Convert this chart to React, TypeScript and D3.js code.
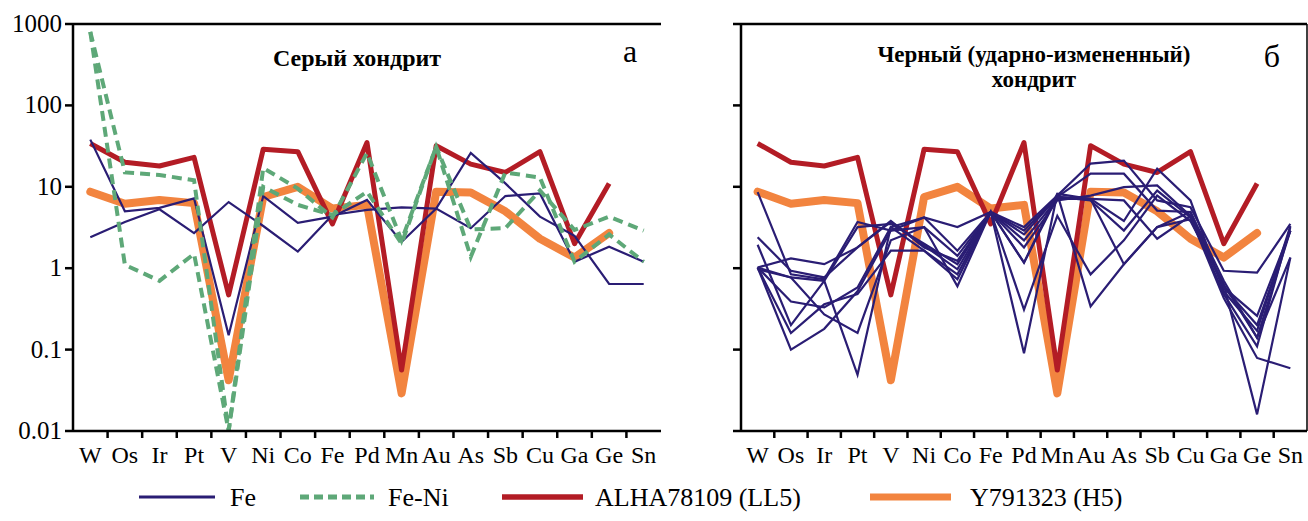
import React from "react";
import * as d3 from "d3";

// elements along the x axis
const elements = ["W", "Os", "Ir", "Pt", "V", "Ni", "Co", "Fe", "Pd", "Mn", "Au", "As", "Sb", "Cu", "Ga", "Ge", "Sn"];

const tickValues = [1000, 100, 10, 1, 0.1, 0.01];
const tickLabels = ["1000", "100", "10", "1", "0.1", "0.01"];

// reference chondrites (same in both panels)
const alha78109 = [34, 20, 18, 23, 0.47, 29, 27, 3.5, 35, 0.056, 32, 19, 15, 27, 2.0, 11, null];
const y791323 = [8.7, 6.2, 6.9, 6.3, 0.042, 7.5, 10, 5.4, 6.0, 0.029, 8.7, 8.5, 5.0, 2.3, 1.35, 2.7, null];

// а: grey chondrite
const grayFe1 = [38, 5.0, 5.5, 7.2, 0.15, 7.7, 3.6, 4.3, 6.9, 2.1, 5.4, 26, 11, 4.3, 2.5, 0.64, 0.64];
const grayFe2 = [2.4, 3.7, 5.3, 2.7, 6.5, 3.3, 1.6, 4.5, 5.2, 5.6, 5.4, 3.1, 7.7, 8.3, 1.2, 1.84, 1.2];
const grayFeNi1 = [800, 15, 14, 12, 0.01, 17, 9.5, 4.2, 26, 2.2, 31, 1.38, 15, 13, 1.2, 2.6, 1.2];
const grayFeNi2 = [800, 1.1, 0.7, 1.5, 0.01, 10, 6, 4.5, 8.7, 2.0, 31, 3.0, 3.1, 9, 2.95, 4.3, 2.9];

// б: black (shock-altered) chondrite
const blackFe1 = [8.6, 0.84, 0.73, 3.7, 2.9, 4.2, 3.2, 4.9, 3.2, 7.8, 19.3, 21, 6.8, 5.6, 0.93, 0.88, 3.5];
const blackFe2 = [2.4, 0.93, 0.77, 1.8, 3.8, 1.8, 1.23, 4.9, 2.6, 7.5, 14.5, 14.5, 5.1, 4.9, 0.58, 0.26, 2.9];
const blackFe3 = [1.94, 0.2, 0.7, 3.2, 3.5, 2.0, 1.12, 4.9, 2.2, 7.1, 7.1, 3.8, 16.7, 6.8, 0.52, 0.17, 3.3];
const blackFe4 = [1.02, 1.32, 1.12, 1.8, 3.7, 1.9, 0.97, 4.9, 1.8, 6.8, 7.8, 9.9, 10.4, 4.4, 0.48, 0.11, 3.2];
const blackFe5 = [1.02, 0.39, 0.33, 0.58, 3.2, 1.64, 0.84, 4.9, 1.17, 7.5, 6.8, 2.9, 9.0, 4.2, 0.43, 0.079, 0.059];
const blackFe6 = [1.02, 0.16, 0.36, 0.48, 1.64, 1.64, 0.73, 4.9, 0.31, 4.4, 0.84, 2.2, 7.8, 3.8, 0.63, 0.016, 1.35];
const blackFe7 = [1.02, 0.1, 0.18, 0.52, 2.9, 3.2, 0.6, 4.9, 0.09, 8.2, 0.34, 1.12, 3.2, 4.0, 0.63, 0.14, 2.9];
const blackFe8 = [0.97, 0.77, 0.27, 0.16, 2.2, 3.2, 1.42, 4.9, 2.9, 7.5, 7.1, 6.8, 2.3, 4.4, 0.58, 0.2, 2.9];
const blackFe9 = [1.02, 0.77, 0.7, 0.049, 3.2, 4.2, 1.64, 4.9, 1.17, 8.2, 7.1, 1.12, 3.2, 4.9, 0.7, 0.14, 1.35];

const FONT = "Liberation Serif, DejaVu Serif, Times New Roman, serif";
const C_FE = "#2a1d74";
const C_FENI = "#5ea878";
const C_ALHA = "#b31c25";
const C_Y79 = "#f2843f";

const TOP = 24;
const BOTTOM = 431;

const y = d3.scaleLog().domain([0.01, 1000]).range([BOTTOM, TOP]);

const Panel = ({ x0, x1, fe, feni, yLabels, rightBorder }) => {
  const x = d3.scaleBand().domain(elements).range([x0, x1]).padding(0);
  const line = d3
    .line()
    .defined((d) => d != null)
    .x((d, i) => x(elements[i]) + x.bandwidth() / 2)
    .y((d) => y(d));

  const bounds = d3.range(1, elements.length).map((k) => x0 + k * x.bandwidth());

  return (
    <g>
      <path d={line(y791323)} fill="none" stroke={C_Y79} strokeWidth={8} strokeLinejoin="round" strokeLinecap="round" />
      <path d={line(alha78109)} fill="none" stroke={C_ALHA} strokeWidth={5} strokeLinejoin="round" />
      {fe.map((s, i) => (
        <path key={"fe" + i} d={line(s)} fill="none" stroke={C_FE} strokeWidth={2.2} />
      ))}
      {feni.map((s, i) => (
        <path key={"fn" + i} d={line(s)} fill="none" stroke={C_FENI} strokeWidth={4} strokeDasharray="10 6" />
      ))}

      {/* frame */}
      <line x1={x0} x2={x1} y1={TOP} y2={TOP} stroke="#000" strokeWidth={2.5} />
      <line x1={x0} x2={x1} y1={BOTTOM} y2={BOTTOM} stroke="#000" strokeWidth={2.5} />
      <line x1={x0} x2={x0} y1={TOP - 1} y2={BOTTOM + 1} stroke="#000" strokeWidth={2.5} />
      {rightBorder && <line x1={x1} x2={x1} y1={TOP} y2={BOTTOM} stroke="#000" strokeWidth={1.5} />}

      {tickValues.map((v, i) => (
        <g key={"yt" + i}>
          <line x1={x0 - 8} x2={x0} y1={y(v)} y2={y(v)} stroke="#000" strokeWidth={2.5} />
          {yLabels && (
            <text x={x0 - 11} y={y(v) + 8} textAnchor="end" fontSize={25} style={{ fontFamily: FONT }}>
              {tickLabels[i]}
            </text>
          )}
        </g>
      ))}
      {bounds.map((bx, i) => (
        <line key={"xt" + i} x1={bx} x2={bx} y1={BOTTOM} y2={BOTTOM + 7} stroke="#000" strokeWidth={2.5} />
      ))}
      {elements.map((e) => (
        <text key={e} x={x(e) + x.bandwidth() / 2} y={463} textAnchor="middle" fontSize={24} style={{ fontFamily: FONT }}>
          {e}
        </text>
      ))}
    </g>
  );
};

const legend = [
  { label: "Fe", color: C_FE, width: 3, dash: null, x: 139, len: 76, tx: 230 },
  { label: "Fe-Ni", color: C_FENI, width: 5, dash: "9 5", x: 300, len: 74, tx: 388 },
  { label: "ALHA78109 (LL5)", color: C_ALHA, width: 5.5, dash: null, x: 502, len: 81, tx: 595 },
  { label: "Y791323 (H5)", color: C_Y79, width: 7, dash: null, x: 870, len: 81, tx: 970 },
];

export default function App() {
  return (
    <svg width={1308} height={521} style={{ position: "absolute", left: 0, top: 0, background: "#fff", fontFamily: FONT }}>
      <rect width={1308} height={521} fill="#fff" />
      <Panel x0={73} x1={661} fe={[grayFe1, grayFe2]} feni={[grayFeNi1, grayFeNi2]} yLabels rightBorder={false} />
      <Panel
        x0={741}
        x1={1307}
        fe={[blackFe1, blackFe2, blackFe3, blackFe4, blackFe5, blackFe6, blackFe7, blackFe8, blackFe9]}
        feni={[]}
        yLabels={false}
        rightBorder
      />

      <text x={357} y={66} textAnchor="middle" fontSize={24} fontWeight="bold" style={{ fontFamily: FONT }}>
        Серый хондрит
      </text>
      <text x={630} y={62} textAnchor="middle" fontSize={32} style={{ fontFamily: FONT }}>
        а
      </text>
      <text x={1034} y={62} textAnchor="middle" fontSize={23} fontWeight="bold" style={{ fontFamily: FONT }}>
        Черный (ударно-измененный)
      </text>
      <text x={1034} y={87} textAnchor="middle" fontSize={23} fontWeight="bold" style={{ fontFamily: FONT }}>
        хондрит
      </text>
      <text x={1272} y={67} textAnchor="middle" fontSize={32} style={{ fontFamily: FONT }}>
        б
      </text>

      {legend.map((l) => (
        <g key={l.label}>
          <line
            x1={l.x}
            x2={l.x + l.len}
            y1={497}
            y2={497}
            stroke={l.color}
            strokeWidth={l.width}
            strokeDasharray={l.dash || undefined}
          />
          <text x={l.tx} y={506} fontSize={26} style={{ fontFamily: FONT }}>
            {l.label}
          </text>
        </g>
      ))}
    </svg>
  );
}
